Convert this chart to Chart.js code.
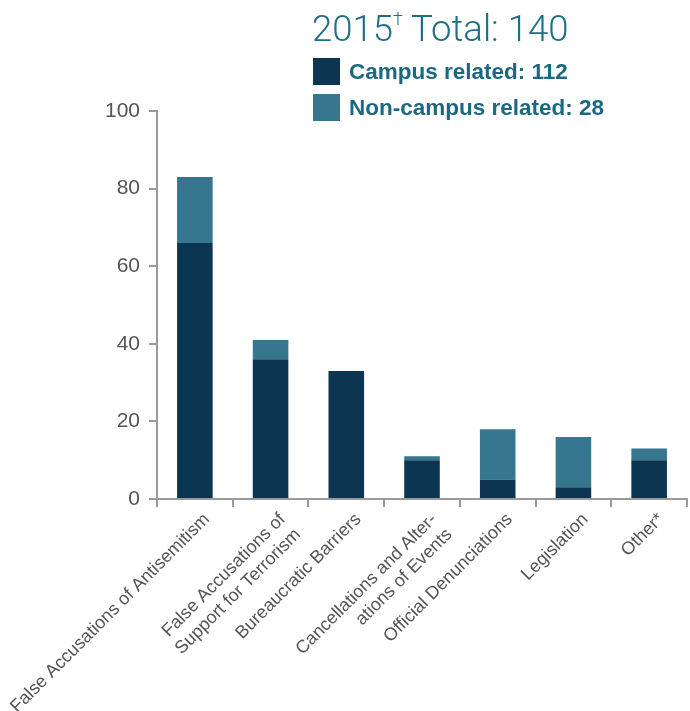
<!DOCTYPE html>
<html>
<head>
<meta charset="utf-8">
<script src="https://cdn.jsdelivr.net/npm/chart.js@4.4.1/dist/chart.umd.min.js"></script>
<style>
    html, body { margin: 0; padding: 0; background: #fff; }
    #wrap { position: relative; width: 690px; height: 711px; }
    #titulo {
        position: absolute; left: 312px; top: 7px;
        font-family: 'Roboto', 'Liberation Sans', sans-serif; font-weight: 300;
        font-size: 36.5px; color: #1f6e85; white-space: nowrap;
    }
    #titulo sup { font-size: 18px; vertical-align: 16px; }
    .leyenda {
        position: absolute; left: 313px; height: 27px;
        font-family: 'Liberation Sans', Arial, sans-serif; font-weight: bold;
        font-size: 22.5px; line-height: 27px; color: #1b6980; white-space: nowrap;
    }
    .leyenda span { display: inline-block; width: 27px; height: 27px; vertical-align: top; margin-right: 9px; }
</style>
</head>
<body>
<div id="wrap">
    <canvas id="chart-1" width="690" height="711"></canvas>
    <div id="titulo">2015<sup>†</sup> Total: 140</div>
    <div class="leyenda" style="top:58px"><span style="background:#0b3550"></span>Campus related: 112</div>
    <div class="leyenda" style="top:94px"><span style="background:#36768f"></span>Non-campus related: 28</div>
</div>
<script>
// Categorías (eje X)
const categorias = [
    'False Accusations of Antisemitism',
    ['False Accusations of', 'Support for Terrorism'],
    'Bureaucratic Barriers',
    ['Cancellations and Alter-', 'ations of Events'],
    'Official Denunciations',
    'Legislation',
    'Other*'
];

// Valores de cada serie
const campus = [66, 36, 33, 10, 5, 3, 10];
const noCampus = [17, 5, 0, 1, 13, 13, 3];

// Marcas del eje Y
const ticksY = [0, 20, 40, 60, 80, 100];

const ctx = document.getElementById('chart-1').getContext('2d');
const chart = new Chart(ctx, {
    type: 'bar',
    data: {
        labels: categorias,
        datasets: [
            {
                label: 'Campus related',
                data: campus,
                backgroundColor: '#0b3550',
                barPercentage: 0.47,
                categoryPercentage: 1,
            },
            {
                label: 'Non-campus related',
                data: noCampus,
                backgroundColor: '#36768f',
                barPercentage: 0.47,
                categoryPercentage: 1,
            }
        ]
    },
    options: {
        responsive: false,
        animation: false,
        layout: {
            padding: { top: 111, right: 3, left: 0, bottom: 0 }
        },
        plugins: {
            legend: { display: false },
            tooltip: { enabled: false }
        },
        scales: {
            x: {
                stacked: true,
                border: { color: '#9a9a9a', width: 2 },
                grid: {
                    display: true,
                    drawOnChartArea: false,
                    drawTicks: true,
                    tickLength: 8,
                    color: '#9a9a9a',
                    lineWidth: 2,
                    offset: true
                },
                ticks: {
                    autoSkip: false,
                    minRotation: 45,
                    maxRotation: 45,
                    labelOffset: 12,
                    color: '#555',
                    padding: 2,
                    font: { family: "'Liberation Sans', Arial, sans-serif", size: 18 }
                },
                afterFit: (scale) => {
                    scale.height = 212;
                    scale.paddingLeft = 0;
                    scale.paddingRight = 0;
                }
            },
            y: {
                stacked: true,
                min: 0,
                max: 100,
                afterBuildTicks: (scale) => { scale.ticks = ticksY.map((v) => ({ value: v })); },
                border: { color: '#9a9a9a', width: 2 },
                grid: {
                    display: true,
                    drawOnChartArea: false,
                    drawTicks: true,
                    tickLength: 8,
                    color: '#9a9a9a',
                    lineWidth: 2
                },
                ticks: {
                    color: '#555',
                    padding: 9,
                    font: { family: "'Liberation Sans', Arial, sans-serif", size: 21 }
                },
                afterFit: (scale) => {
                    scale.width = 157;
                    scale.paddingTop = 0;
                    scale.paddingBottom = 0;
                }
            }
        }
    }
});
</script>
</body>
</html>
